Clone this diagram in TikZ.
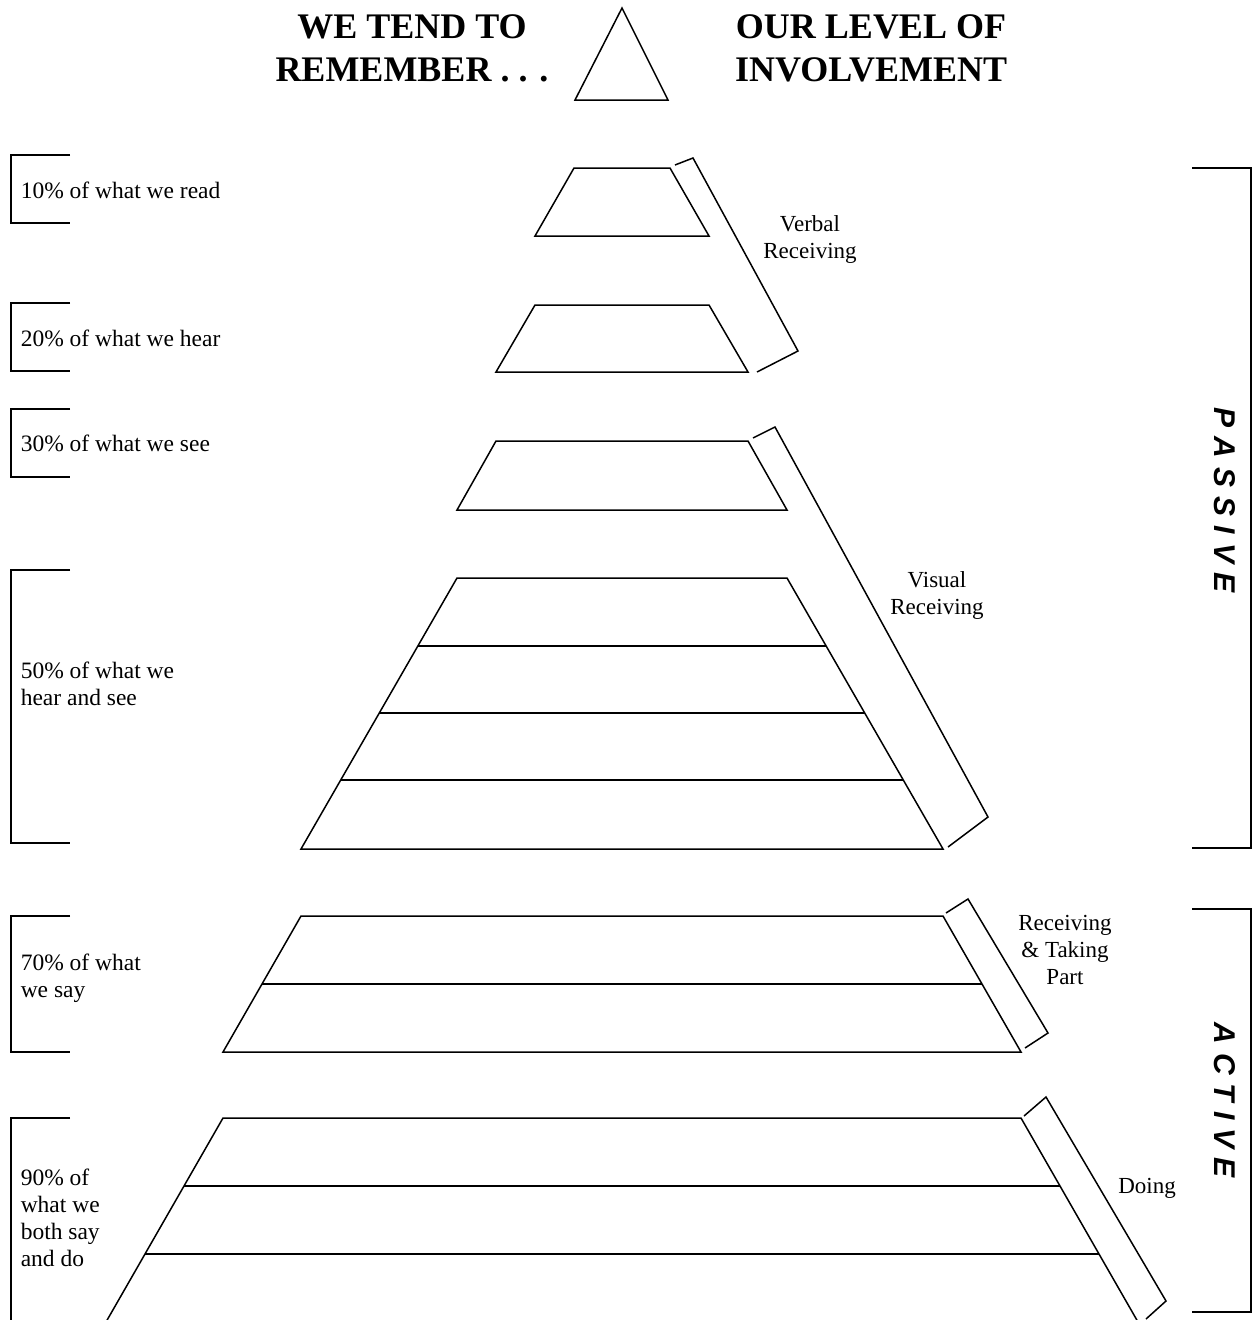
\documentclass[tikz,border=0pt]{standalone}
\usepackage{fontspec}
\setmainfont{Liberation Serif}
\newfontfamily\sidefont{Liberation Sans Bold Italic}
\newcommand\lsp{\kern 9pt}
\begin{document}
\begin{tikzpicture}[x=1pt,y=-1pt, line width=1.5pt, line join=miter,
  lbl/.style={font=\fontsize{23.5}{27}\selectfont, inner sep=0pt, align=left, anchor=west},
  rlbl/.style={font=\fontsize{23}{27}\selectfont, inner sep=0pt, align=center},
  ttl/.style={font=\fontsize{36}{43}\selectfont\bfseries, align=center, inner sep=0pt},
  side/.style={font=\sidefont\fontsize{30}{32}\selectfont, rotate=-90, inner sep=0pt},
  brk/.style={line width=1.5pt},
  tier/.style={line width=1.5pt}]
\useasboundingbox (0,0) rectangle (1256,1320);

% titles
\node[ttl] (t1) at (412,27) {WE TEND TO};
\node[ttl] (t2) at (412,70) {REMEMBER . . .};
\node[ttl] (t3) at (871,27) {OUR LEVEL OF};
\node[ttl] (t4) at (871,70) {INVOLVEMENT};
\draw (622,8) -- (668,100) -- (575,100) -- cycle;

% left brackets
\draw[brk] (70,155) -- (11,155) -- (11,223) -- (70,223);
\draw[brk] (70,303) -- (11,303) -- (11,371) -- (70,371);
\draw[brk] (70,409) -- (11,409) -- (11,477) -- (70,477);
\draw[brk] (70,570) -- (11,570) -- (11,843) -- (70,843);
\draw[brk] (70,916) -- (11,916) -- (11,1052) -- (70,1052);
\draw[brk] (70,1118) -- (11,1118) -- (11,1330);

\node[lbl] (l10) at (20,190) {10\% of what we read};
\node[lbl] (l20) at (20,338) {20\% of what we hear};
\node[lbl] (l30) at (20,443) {30\% of what we see};
\node[lbl] (l50) at (20,684) {50\% of what we\\hear and see};
\node[lbl] (l70) at (20,978) {70\% of what\\we say};
\node[lbl] (l90) at (20,1218) {90\% of\\what we\\both say\\and do};

% right brackets
\draw[brk] (1192,168) -- (1251,168) -- (1251,848) -- (1192,848);
\draw[brk] (1192,909) -- (1251,909) -- (1251,1312) -- (1192,1312);
\node[side] (pas) at (1225,500) {P\lsp A\lsp S\lsp S\lsp I\lsp V\lsp E};
\node[side] (act) at (1225,1100) {A\lsp C\lsp T\lsp I\lsp V\lsp E};

% pyramid tiers
\draw[tier] (574,168) -- (670,168) -- (709,236) -- (535,236) -- cycle;
\draw[tier] (535,305) -- (709,305) -- (748,372) -- (496,372) -- cycle;
\draw[tier] (496,441) -- (748,441) -- (787,510) -- (457,510) -- cycle;
\draw[tier] (457,578) -- (787,578) -- (943,849) -- (301,849) -- cycle;
\draw[tier] (418,646) -- (826,646);
\draw[tier] (379,713) -- (865,713);
\draw[tier] (341,780) -- (903,780);
\draw[tier] (301,916) -- (943,916) -- (1021,1052) -- (223,1052) -- cycle;
\draw[tier] (262,984) -- (982,984);
\draw[tier] (223,1118) -- (1021,1118) -- (1138,1322) -- (106,1322) -- cycle;
\draw[tier] (184,1186) -- (1060,1186);
\draw[tier] (145,1254) -- (1099,1254);

% slanted brackets
\draw[brk] (675,165) -- (693,158) -- (798,351) -- (757,372);
\draw[brk] (753,438) -- (775,427) -- (988,817) -- (948,847);
\draw[brk] (946,913) -- (968,899) -- (1048,1033) -- (1025,1048);
\draw[brk] (1024,1116) -- (1046,1097) -- (1166,1301) -- (1146,1319);

\node[rlbl] (vr) at (810,239) {Verbal\\Receiving};
\node[rlbl] (vis) at (937,595) {Visual\\Receiving};
\node[rlbl] (rtp) at (1065,950) {Receiving\\\& Taking\\Part};
\node[rlbl] (do) at (1147,1188) {Doing};
\end{tikzpicture}
\end{document}
